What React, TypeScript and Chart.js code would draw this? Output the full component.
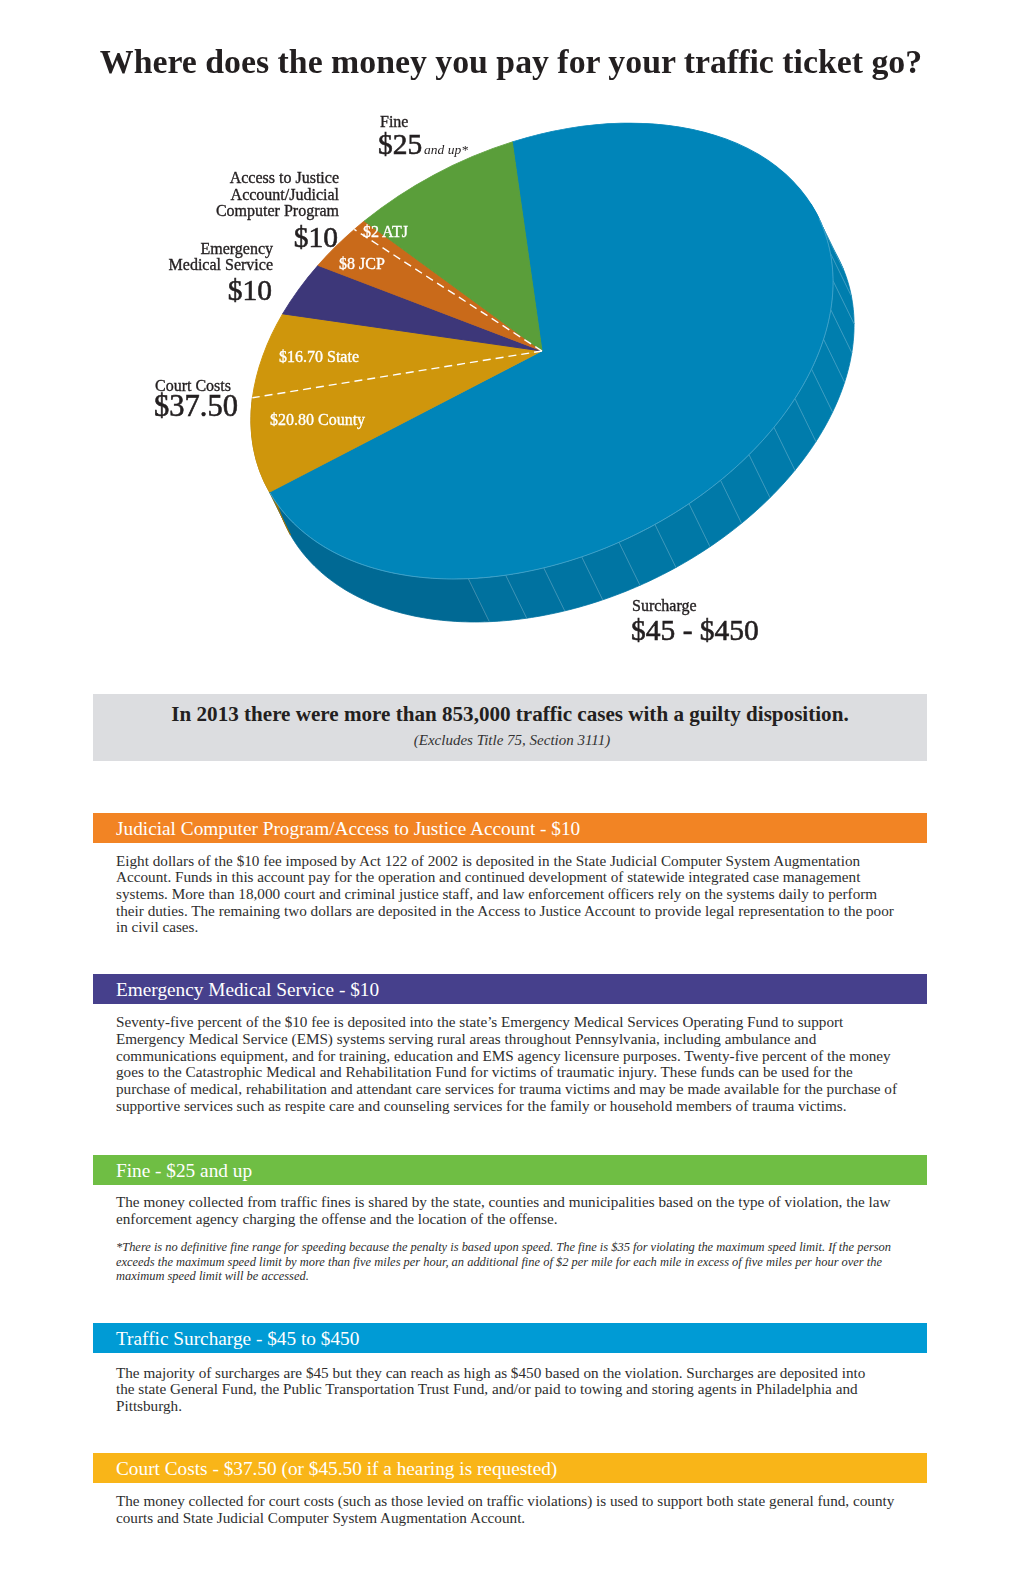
import React, { useEffect, useRef } from "react";
import { Chart, registerables } from "chart.js";

Chart.register(...registerables);

// ---------------- data ----------------
const categories = [
  "Surcharge",
  "Court Costs - County",
  "Court Costs - State",
  "Emergency Medical Service",
  "Judicial Computer Program",
  "Access to Justice",
  "Fine",
];
const amounts = [201, 20.8, 16.7, 10, 8, 2, 25];
const sliceColors = ["#0085b9", "#cf960c", "#cf960c", "#3d3779", "#c96a1a", "#c96a1a", "#5a9e3a"];
// dashed split line drawn at the end of these slices (County|State, JCP|ATJ)
const splitAfter = [1, 4];

const outerLabels = {
  fine: ["Fine", "$25", "and up*"],
  atj: ["Access to Justice", "Account/Judicial", "Computer Program", "$10"],
  ems: ["Emergency", "Medical Service", "$10"],
  court: ["Court Costs", "$37.50"],
  surcharge: ["Surcharge", "$45 - $450"],
};
const innerLabels = ["$2 ATJ", "$8 JCP", "$16.70 State", "$20.80 County"];

const title = "Where does the money you pay for your traffic ticket go?";
const highlight = "In 2013 there were more than 853,000 traffic cases with a guilty disposition.";
const highlightNote = "(Excludes Title 75, Section 3111)";

const sec1Title = "Judicial Computer Program/Access to Justice Account - $10";
const sec1Lines = [
  "Eight dollars of the $10 fee imposed by Act 122 of 2002 is deposited in the State Judicial Computer System Augmentation",
  "Account. Funds in this account pay for the operation and continued development of statewide integrated case management",
  "systems. More than 18,000 court and criminal justice staff, and law enforcement officers rely on the systems daily to perform",
  "their duties. The remaining two dollars are deposited in the Access to Justice Account to provide legal representation to the poor",
  "in civil cases.",
];
const sec2Title = "Emergency Medical Service - $10";
const sec2Lines = [
  "Seventy-five percent of the $10 fee is deposited into the state\u2019s Emergency Medical Services Operating Fund to support",
  "Emergency Medical Service (EMS) systems serving rural areas throughout Pennsylvania, including ambulance and",
  "communications equipment, and for training, education and EMS agency licensure purposes. Twenty-five percent of the money",
  "goes to the Catastrophic Medical and Rehabilitation Fund for victims of traumatic injury. These funds can be used for the",
  "purchase of medical, rehabilitation and attendant care services for trauma victims and may be made available for the purchase of",
  "supportive services such as respite care and counseling services for the family or household members of trauma victims.",
];
const sec3Title = "Fine - $25 and up";
const sec3Lines = [
  "The money collected from traffic fines is shared by the state, counties and municipalities based on the type of violation, the law",
  "enforcement agency charging the offense and the location of the offense.",
];
const sec3Note = [
  "*There is no definitive fine range for speeding because the penalty is based upon speed. The fine is $35 for violating the maximum speed limit. If the person",
  "exceeds the maximum speed limit by more than five miles per hour, an additional fine of $2 per mile for each mile in excess of five miles per hour over the",
  "maximum speed limit will be accessed.",
];
const sec4Title = "Traffic Surcharge - $45 to $450";
const sec4Lines = [
  "The majority of surcharges are $45 but they can reach as high as $450 based on the violation. Surcharges are deposited into",
  "the state General Fund, the Public Transportation Trust Fund, and/or paid to towing and storing agents in Philadelphia and",
  "Pittsburgh.",
];
const sec5Title = "Court Costs - $37.50 (or $45.50 if a hearing is requested)";
const sec5Lines = [
  "The money collected for court costs (such as those levied on traffic violations) is used to support both state general fund, county",
  "courts and State Judicial Computer System Augmentation Account.",
];

// ---------------- styling ----------------
const FONT = "'Liberation Serif', 'DejaVu Serif', serif";
const INK = "#231f20";
const BODY = "#2e2e2e";

const RX = 307;
const RY = 206;
const TILT = (-25.4 * Math.PI) / 180;
const DEPTH_X = 21;
const DEPTH_Y = 43;
const SIDE_DARK = [0, 104, 147];
const SIDE_LIGHT = [0, 126, 174];
const PLAIN_SPAN = (54.7 * Math.PI) / 180;
const STRIPE_STEP = (7.5 * Math.PI) / 180;
const ROTATION = 11.8;

function pt(cx: number, cy: number, t: number): [number, number] {
  const c = Math.cos(TILT), s = Math.sin(TILT);
  const ex = RX * Math.cos(t), ey = RY * Math.sin(t);
  return [cx + c * ex - s * ey, cy + s * ex + c * ey];
}
function normal(t: number): [number, number] {
  const c = Math.cos(TILT), s = Math.sin(TILT);
  const dx = -RX * Math.sin(t), dy = RY * Math.cos(t);
  const tx = c * dx - s * dy, ty = s * dx + c * dy;
  const l = Math.hypot(tx, ty);
  return [ty / l, -tx / l];
}
function facing(t: number) {
  const n = normal(t);
  return n[0] * DEPTH_X + n[1] * DEPTH_Y;
}
function hexToRgb(h: string) {
  const v = parseInt(h.slice(1), 16);
  return [(v >> 16) & 255, (v >> 8) & 255, v & 255];
}

const ellipsePlugin = {
  id: "ellipse3d",
  beforeDatasetsDraw(chart: any) {
    const ctx: CanvasRenderingContext2D = chart.ctx;
    const arcs = chart.getDatasetMeta(0).data as any[];
    if (!arcs.length) return;
    const cx = arcs[0].x, cy = arcs[0].y, R = arcs[0].outerRadius;

    type Band = { t0: number; t1: number; i: number };
    const bands: Band[] = [];
    const stripes: number[] = [];
    arcs.forEach((arc: any, i: number) => {
      const s = arc.startAngle, e = arc.endAngle;
      let cuts = [s, e];
      if (i === 0) {
        cuts = [e];
        let t = e - PLAIN_SPAN;
        while (t > s) {
          cuts.push(t);
          stripes.push(t);
          t -= STRIPE_STEP;
        }
        cuts.push(s);
        cuts.reverse();
      }
      for (let k = 0; k < cuts.length - 1; k++) bands.push({ t0: cuts[k], t1: cuts[k + 1], i });
    });

    ctx.save();
    for (const b of bands) {
      const tm = (b.t0 + b.t1) / 2;
      if (Math.max(facing(b.t0), facing(b.t1), facing(tm)) <= 0) continue;
      let col: number[];
      if (b.i === 0) {
        const n = normal(tm);
        const f = Math.min(1, Math.max(0, (n[0] + 0.45) / 1.35));
        col = SIDE_DARK.map((d, k) => Math.round(d + (SIDE_LIGHT[k] - d) * f));
      } else {
        col = hexToRgb(sliceColors[b.i]).map((v) => Math.round(v * 0.75));
      }
      const color = `rgb(${col[0]},${col[1]},${col[2]})`;
      const n = Math.max(2, Math.ceil((b.t1 - b.t0) / (Math.PI / 180)));
      ctx.beginPath();
      for (let j = 0; j <= n; j++) {
        const p = pt(cx, cy, b.t0 + ((b.t1 - b.t0) * j) / n);
        if (j === 0) ctx.moveTo(p[0], p[1]);
        else ctx.lineTo(p[0], p[1]);
      }
      for (let j = n; j >= 0; j--) {
        const p = pt(cx, cy, b.t0 + ((b.t1 - b.t0) * j) / n);
        ctx.lineTo(p[0] + DEPTH_X, p[1] + DEPTH_Y);
      }
      ctx.closePath();
      ctx.fillStyle = color;
      ctx.strokeStyle = color;
      ctx.lineWidth = 0.8;
      ctx.fill();
      ctx.stroke();
    }
    ctx.strokeStyle = "rgba(255,255,255,0.28)";
    ctx.lineWidth = 0.8;
    for (const t of stripes) {
      if (facing(t) <= 0) continue;
      const p = pt(cx, cy, t);
      ctx.beginPath();
      ctx.moveTo(p[0], p[1]);
      ctx.lineTo(p[0] + DEPTH_X, p[1] + DEPTH_Y);
      ctx.stroke();
    }
    ctx.restore();

    ctx.save();
    ctx.translate(cx, cy);
    ctx.rotate(TILT);
    ctx.scale(RX / R, RY / R);
    ctx.translate(-cx, -cy);
  },
  afterDatasetsDraw(chart: any) {
    const ctx: CanvasRenderingContext2D = chart.ctx;
    ctx.restore();
    const arcs = chart.getDatasetMeta(0).data as any[];
    if (!arcs.length) return;
    const cx = arcs[0].x, cy = arcs[0].y;
    ctx.save();
    // light rim along the front edge
    const s = arcs[0].startAngle, e = arcs[0].endAngle;
    ctx.strokeStyle = "rgba(255,255,255,0.3)";
    ctx.lineWidth = 0.8;
    ctx.beginPath();
    let on = false;
    const step = Math.PI / 360;
    for (let t = s; t <= e; t += step) {
      if (facing(t) > 0) {
        const p = pt(cx, cy, t);
        if (!on) ctx.moveTo(p[0], p[1]);
        else ctx.lineTo(p[0], p[1]);
        on = true;
      } else on = false;
    }
    ctx.stroke();
    // dashed split lines
    ctx.setLineDash([8, 5]);
    ctx.strokeStyle = "#ffffff";
    ctx.lineWidth = 1.4;
    for (const idx of splitAfter) {
      const t = arcs[idx].endAngle;
      const p = pt(cx, cy, t);
      ctx.beginPath();
      ctx.moveTo(cx, cy);
      ctx.lineTo(p[0], p[1]);
      ctx.stroke();
    }
    ctx.restore();
  },
};

function PieChart() {
  const ref = useRef<HTMLCanvasElement>(null);
  useEffect(() => {
    if (!ref.current) return;
    const chart = new Chart(ref.current, {
      type: "pie",
      data: {
        labels: categories,
        datasets: [
          {
            data: amounts,
            backgroundColor: sliceColors,
            borderColor: sliceColors,
            borderWidth: 1,
            clip: false as any,
          } as any,
        ],
      },
      options: {
        responsive: false,
        animation: false,
        rotation: ROTATION,
        events: [],
        layout: { padding: 0 },
        plugins: { legend: { display: false }, tooltip: { enabled: false } },
      },
      plugins: [ellipsePlugin as any],
    });
    return () => chart.destroy();
  }, []);
  return (
    <canvas
      ref={ref}
      width={800}
      height={600}
      style={{ position: "absolute", left: 142, top: 51, width: 800, height: 600 }}
    />
  );
}

type TP = {
  x: number;
  base: number;
  size: number;
  align?: "left" | "right" | "center";
  color?: string;
  weight?: number;
  italic?: boolean;
  stroke?: number;
  children: React.ReactNode;
};
function Txt({ x, base, size, align = "left", color = INK, weight = 400, italic = false, stroke = 0, children }: TP) {
  const style: any = {
    position: "absolute",
    top: base - 0.8375 * size,
    fontFamily: FONT,
    fontSize: size,
    lineHeight: `${size}px`,
    color,
    fontWeight: weight,
    fontStyle: italic ? "italic" : "normal",
    whiteSpace: "nowrap",
  };
  if (stroke) style.WebkitTextStroke = `${stroke}px ${color}`;
  if (align === "left") style.left = x;
  else if (align === "right") style.right = 1020 - x;
  else {
    style.left = x - 500;
    style.width = 1000;
    style.textAlign = "center";
  }
  return <div style={style}>{children}</div>;
}

function Section({
  top,
  color,
  heading,
  lines,
  base,
  lh,
}: {
  top: number;
  color: string;
  heading: string;
  lines: string[];
  base: number;
  lh: number;
}) {
  return (
    <>
      <div style={{ position: "absolute", left: 93, top, width: 834, height: 30, background: color }} />
      <Txt x={116} base={top + 22.5} size={19.3} color="#ffffff">
        {heading}
      </Txt>
      {lines.map((l, i) => (
        <Txt key={i} x={116} base={base + i * lh} size={15.2} color={BODY}>
          {l}
        </Txt>
      ))}
    </>
  );
}

export default function App() {
  const lbl = 16;
  const big = 29.5;
  const st = 0.35;
  const bst = 0.6;
  return (
    <div style={{ position: "absolute", left: 0, top: 0, width: 1020, height: 1576, background: "#ffffff", overflow: "hidden" }}>
      <PieChart />
      <Txt x={511} base={73} size={33.8} align="center" weight={700}>
        {title}
      </Txt>

      {/* Fine */}
      <Txt x={380} base={127} size={lbl} stroke={st}>{outerLabels.fine[0]}</Txt>
      <Txt x={378} base={154.5} size={big} stroke={bst}>{outerLabels.fine[1]}</Txt>
      <Txt x={424} base={154} size={13.5} italic>{outerLabels.fine[2]}</Txt>

      {/* Access to Justice / JCP */}
      <Txt x={339} base={183.5} size={lbl} align="right" stroke={st}>{outerLabels.atj[0]}</Txt>
      <Txt x={339} base={200} size={lbl} align="right" stroke={st}>{outerLabels.atj[1]}</Txt>
      <Txt x={339} base={216.5} size={lbl} align="right" stroke={st}>{outerLabels.atj[2]}</Txt>
      <Txt x={338} base={247.5} size={big} align="right" stroke={bst}>{outerLabels.atj[3]}</Txt>

      {/* EMS */}
      <Txt x={273} base={254} size={lbl} align="right" stroke={st}>{outerLabels.ems[0]}</Txt>
      <Txt x={273} base={270.5} size={lbl} align="right" stroke={st}>{outerLabels.ems[1]}</Txt>
      <Txt x={272} base={301} size={big} align="right" stroke={bst}>{outerLabels.ems[2]}</Txt>

      {/* Court costs */}
      <Txt x={155} base={391} size={lbl} stroke={st}>{outerLabels.court[0]}</Txt>
      <Txt x={154} base={416.5} size={30.5} stroke={bst}>{outerLabels.court[1]}</Txt>

      {/* Surcharge */}
      <Txt x={632} base={611} size={lbl} stroke={st}>{outerLabels.surcharge[0]}</Txt>
      <Txt x={631} base={640.5} size={big} stroke={bst}>{outerLabels.surcharge[1]}</Txt>

      {/* inner slice labels */}
      <Txt x={363} base={237.5} size={16} color="#ffffff" stroke={0.35}>{innerLabels[0]}</Txt>
      <Txt x={339} base={269} size={16} color="#ffffff" stroke={0.35}>{innerLabels[1]}</Txt>
      <Txt x={279} base={362.5} size={16} color="#ffffff" stroke={0.35}>{innerLabels[2]}</Txt>
      <Txt x={270} base={425.5} size={16} color="#ffffff" stroke={0.35}>{innerLabels[3]}</Txt>

      {/* highlight box */}
      <div style={{ position: "absolute", left: 93, top: 694, width: 834, height: 67, background: "#dcdde0" }} />
      <Txt x={510} base={722} size={21.1} align="center" weight={700}>
        {highlight}
      </Txt>
      <Txt x={512} base={746} size={15} align="center" italic color="#333">
        {highlightNote}
      </Txt>

      <Section top={813} color="#f28424" heading={sec1Title} lines={sec1Lines} base={865.5} lh={16.6} />
      <Section top={974} color="#46408c" heading={sec2Title} lines={sec2Lines} base={1026.5} lh={16.9} />
      <Section top={1155} color="#6fbe44" heading={sec3Title} lines={sec3Lines} base={1206.5} lh={17} />
      {sec3Note.map((l, i) => (
        <Txt key={i} x={116} base={1251.5 + i * 14.7} size={12.45} italic color={BODY}>
          {l}
        </Txt>
      ))}
      <Section top={1323} color="#009bd5" heading={sec4Title} lines={sec4Lines} base={1377.5} lh={16.5} />
      <Section top={1453} color="#f9b518" heading={sec5Title} lines={sec5Lines} base={1506} lh={17} />
    </div>
  );
}
